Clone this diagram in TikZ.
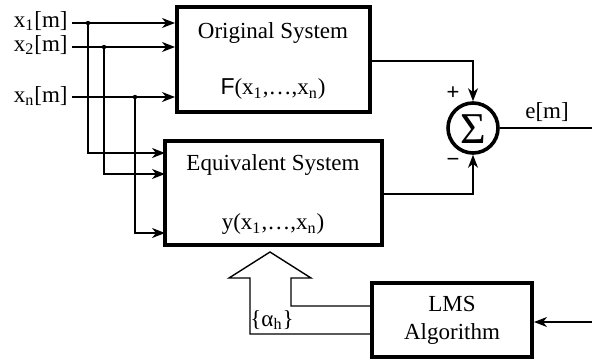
\documentclass[tikz,border=0pt]{standalone}
\usepackage{fontspec}
\setmainfont{Liberation Serif}
\newfontfamily\sansf{Liberation Sans}
\usetikzlibrary{arrows.meta,calc}
\begin{document}
\begin{tikzpicture}[x=0.5pt,y=-0.5pt,
  blk/.style={draw, line width=2pt, inner sep=0pt},
  conn/.style={line width=0.7pt},
  arr/.style={conn, -{Stealth[length=6.5pt,width=5pt,inset=2pt]}},
  lbl/.style={inner sep=0pt, font=\fontsize{11.5}{14}\selectfont},
  dot/.style={circle, fill, inner sep=0pt, minimum size=2.2pt}]
\useasboundingbox (0,0) rectangle (592,360);
% boxes
\node[blk, minimum width=96.5pt, minimum height=52.5pt] (orig) at (273.5,59.5) {};
\node[blk, minimum width=108.5pt, minimum height=52pt] (equiv) at (273.5,193) {};
\node[blk, minimum width=80pt, minimum height=37pt] (lms) at (452,320) {};
\node[draw, circle, line width=1.8pt, minimum size=25pt, inner sep=0pt] (sum) at (473,128) {};
\node[lbl, font=\fontsize{22}{22}\selectfont] (sig) at (473,129) {Σ};
% box texts
\node[lbl] (origt) at (273,33) {Original System};
\node[lbl] (origf) at (273,89) {{\sansf F}(x\textsubscript{1},…,x\textsubscript{n})};
\node[lbl] (equivt) at (273,165) {Equivalent System};
\node[lbl] (equivf) at (273,224) {y(x\textsubscript{1},…,x\textsubscript{n})};
\node[lbl, align=center, font=\fontsize{11.5}{14}\selectfont] (lmst) at (452,320) {LMS\\Algorithm};
% inputs
\node[lbl, anchor=east] (x1) at (68,21) {x\textsubscript{1}[m]};
\node[lbl, anchor=east] (x2) at (68,45) {x\textsubscript{2}[m]};
\node[lbl, anchor=east] (xn) at (68,96) {x\textsubscript{n}[m]};
\coordinate (i1) at (72,23);
\coordinate (i2) at (72,47);
\coordinate (in) at (72,97);
\draw[arr] (i1) -- (i1 -| orig.west);
\draw[arr] (i2) -- (i2 -| orig.west);
\draw[arr] (in) -- (in -| orig.west);
\node[dot] (d1) at (88,23) {};
\node[dot] (d2) at (104,47) {};
\node[dot] (dn) at (135,97) {};
\coordinate (e1) at (165,153);
\coordinate (e2) at (165,174);
\coordinate (en) at (165,233);
\draw[arr] (d1.center) |- (e1);
\draw[arr] (d2.center) |- (e2);
\draw[arr] (dn.center) |- (en);
% outputs to sum
\coordinate (o1) at (370,61);
\coordinate (o2) at (382,194);
\draw[arr] (o1) -| (sum.north);
\draw[arr] (o2) -| (sum.south);
\node[lbl, font=\sansf\fontsize{11}{11}\selectfont] (plus) at (453,93) {+};
\node[lbl, font=\sansf\fontsize{11}{11}\selectfont] (minus) at (453,162) {−};
\coordinate (eo) at (592,128);
\draw[conn] (sum.east) -- (eo);
\node[lbl] (el) at (547,112) {e[m]};
% LMS input
\coordinate (li) at (592,322);
\draw[arr] (li) -- (li -| lms.east);
% hollow arrow
\draw[conn] (372,306) -- (291,306) -- (291,278) -- (311,278) -- (270,252)
  -- (229,278) -- (250,278) -- (250,334) -- (372,334);
\node[lbl] (alpha) at (272,320) {\{α\textsubscript{h}\}};
\end{tikzpicture}
\end{document}
